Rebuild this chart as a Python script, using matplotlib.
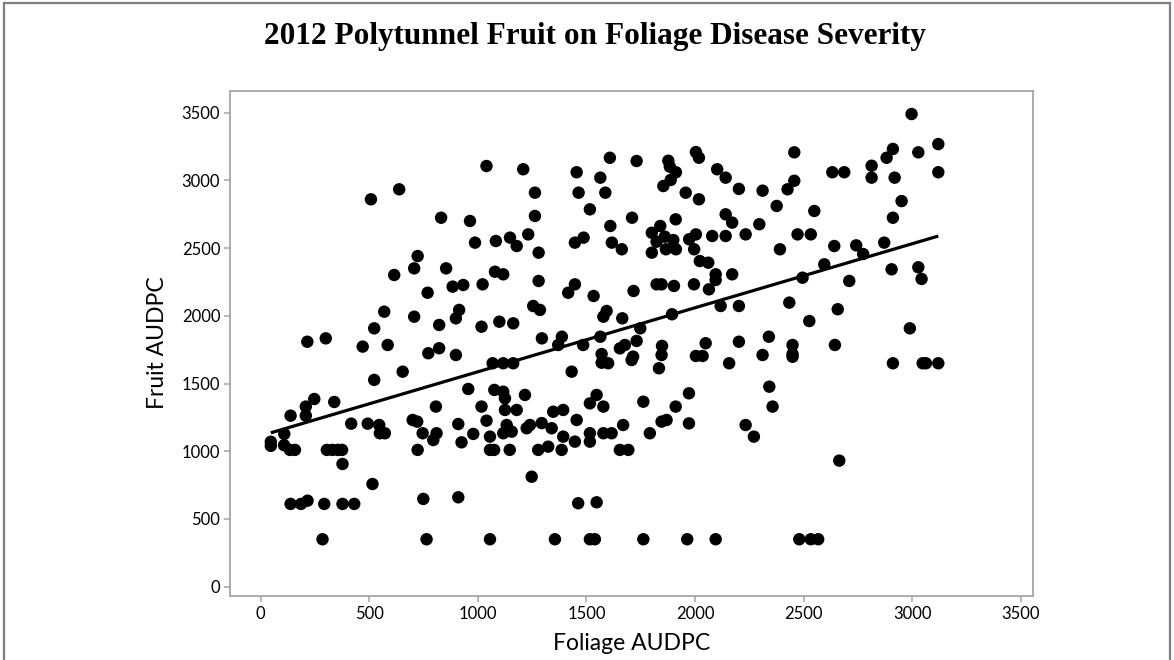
import numpy as np
import matplotlib
matplotlib.use("Agg")
import matplotlib.pyplot as plt
from matplotlib.patches import Rectangle

# Foliage AUDPC (x) and fruit AUDPC (y) per plot, 2012 polytunnel trial
foliage_audpc = [
    47, 47, 109, 108, 135, 158, 138, 208, 208, 247, 339, 215, 300, 417, 493,
    546, 549, 572, 523, 654, 470, 585, 772, 822, 899, 1068, 956, 1076, 807, 700,
    721, 746, 795, 810, 723, 910, 925, 979, 1017, 1040, 1056, 1056, 1075, 305, 330,
    355, 375, 377, 515, 138, 186, 216, 293, 377, 431, 749, 910, 285, 764, 1056,
    1040, 508, 638, 831, 964, 987, 1083, 723, 707, 854, 615, 769, 884, 933, 1022,
    1079, 569, 707, 914, 899, 523, 822, 1017, 1099,
    1209, 1455, 1608, 1731, 1877, 1884, 1912, 2004, 2018, 2102, 2141, 2202, 2311, 2376, 1263,
    1464, 1564, 1587, 1888, 1854, 1957, 2018, 1516, 1263, 1710, 1911, 2141, 2171, 2296, 1610,
    1840, 1148, 1232, 1179, 1280, 1447, 1487, 1617, 1663, 1801, 1823, 1861, 1900, 1866, 1912,
    1801, 1973, 2004, 1996, 2079, 2141, 2233, 2022, 2061, 2095, 2095, 2171, 2391, 1117, 1280,
    1447, 1416, 1533, 1717, 1823, 1846, 1903, 1995, 2064, 1255, 1286, 1593, 1578, 1665, 1748,
    1894, 2118, 2202, 1163, 1295, 1387, 1370, 1564, 1485, 1731, 1677, 1654, 1848, 2049, 2202,
    2340,
    2997, 3120, 3028, 2911, 2882, 2457, 2632, 2687, 2813, 2813, 2919, 3120, 2457, 2426, 2549,
    2951, 2911, 2472, 2533, 2641, 2742, 2774, 2871, 2595, 2495, 2710, 2905, 3028, 3043, 2434,
    2657, 2526, 2989, 2449, 2644,
    1570, 1570, 1600, 1715, 1708, 1846, 1834, 2004, 2035, 2157, 2311, 1117, 1163, 1432, 1117,
    1125, 1217, 1125, 1179, 1133, 1117, 1156, 1147, 1225, 1240, 1294, 1340, 1278, 1324, 1347,
    1393, 1386, 1393, 1455, 1447, 1516, 1547, 1578, 1516, 1516, 1578, 1616, 1669, 1654, 1693,
    1762, 1792, 1846, 1869, 1911, 1972, 1972, 2233, 2271, 2342, 2357, 1248, 1462, 1547, 1355,
    1516, 1539, 1762, 1964, 2095,
    2449, 2449, 2911, 3048, 3063, 3120, 2664, 2480, 2533, 2567,
]
fruit_audpc = [
    1070, 1040, 1128, 1045, 1010, 1010, 1263, 1330, 1263, 1386, 1364, 1809, 1834, 1204, 1204,
    1194, 1133, 1133, 1527, 1588, 1773, 1785, 1724, 1761, 1711, 1650, 1460, 1453, 1330, 1231,
    1219, 1133, 1083, 1133, 1010, 1201, 1066, 1128, 1330, 1226, 1108, 1010, 1010, 1010, 1010,
    1010, 1010, 906, 758, 611, 611, 635, 611, 611, 611, 648, 660, 350, 350, 350,
    3107, 2861, 2935, 2725, 2701, 2541, 2553, 2442, 2351, 2351, 2302, 2171, 2216, 2228, 2233,
    2326, 2031, 1994, 2044, 1982, 1908, 1933, 1920, 1957,
    3083, 3061, 3168, 3144, 3146, 3102, 3061, 3210, 3168, 3083, 3021, 2938, 2925, 2812, 2910,
    2910, 3021, 2910, 3004, 2959, 2910, 2861, 2787, 2738, 2725, 2713, 2750, 2689, 2677, 2664,
    2664, 2578, 2602, 2516, 2467, 2541, 2578, 2541, 2492, 2614, 2548, 2585, 2560, 2492, 2492,
    2467, 2566, 2602, 2492, 2590, 2590, 2602, 2405, 2393, 2307, 2265, 2307, 2492, 2307, 2258,
    2233, 2171, 2147, 2184, 2233, 2233, 2221, 2233, 2196, 2073, 2044, 2036, 1994, 1982, 1908,
    2012, 2073, 2073, 1945, 1834, 1846, 1785, 1846, 1785, 1815, 1785, 1760, 1778, 1798, 1809,
    1846,
    3491, 3269, 3208, 3233, 3168, 3208, 3061, 3061, 3109, 3021, 3021, 3061, 2998, 2935, 2775,
    2848, 2725, 2602, 2602, 2516, 2521, 2457, 2541, 2381, 2282, 2258, 2344, 2359, 2273, 2098,
    2049, 1962, 1908, 1785, 1785,
    1718, 1654, 1650, 1699, 1674, 1711, 1613, 1704, 1704, 1650, 1711, 1650, 1650, 1588, 1440,
    1391, 1416, 1305, 1305, 1194, 1133, 1145, 1010, 1170, 1194, 1208, 1170, 1010, 1034, 1292,
    1305, 1010, 1108, 1231, 1071, 1354, 1416, 1330, 1133, 1071, 1133, 1133, 1194, 1010, 1010,
    1366, 1133, 1219, 1231, 1330, 1428, 1206, 1194, 1108, 1477, 1330, 812, 616, 623, 350,
    350, 350, 350, 350, 350,
    1718, 1698, 1650, 1650, 1650, 1650, 931, 350, 350, 350,
]

# fitted regression line: fruit = intercept + slope * foliage
fit_intercept = 1114
fit_slope = 0.473

x_ticks = [0, 500, 1000, 1500, 2000, 2500, 3000, 3500]
y_ticks = [0, 500, 1000, 1500, 2000, 2500, 3000, 3500]

title_text = "2012 Polytunnel Fruit on Foliage Disease Severity"
x_label = "Foliage AUDPC"
y_label = "Fruit AUDPC"

x = np.asarray(foliage_audpc, dtype=float)
y = np.asarray(fruit_audpc, dtype=float)

fit_x = np.array([x.min(), x.max()])
fit_y = fit_intercept + fit_slope * fit_x

axis_grey = "#a6a6a6"
label_font = ["Lato", "DejaVu Sans"]

fig = plt.figure(figsize=(11.74, 6.60), dpi=100)
ax = fig.add_axes([0.1959, 0.0970, 0.6840, 0.7651])

ax.scatter(x, y, s=80, color="black", edgecolors="none", zorder=3)
ax.plot(fit_x, fit_y, color="black", lw=2.3, zorder=4, solid_capstyle="butt")

ax.set_xlim(-141, 3556)
ax.set_ylim(-69, 3661)
ax.set_xticks(x_ticks)
ax.set_yticks(y_ticks)

for side in ("left", "right", "top", "bottom"):
    ax.spines[side].set_color(axis_grey)
    ax.spines[side].set_linewidth(1.3)

ax.tick_params(axis="both", direction="out", length=4, width=1.1,
               color=axis_grey, labelsize=12, pad=3)
for lab in ax.get_xticklabels() + ax.get_yticklabels():
    lab.set_family(label_font)
    lab.set_color("black")

ax.set_xlabel(x_label, fontsize=16.5, family=label_font, color="black")
ax.set_ylabel(y_label, fontsize=16.5, family=label_font, color="black")
ax.xaxis.set_label_coords(0.5, -0.095)
ax.xaxis.label.set_va("center")
ax.yaxis.set_label_coords(-0.090, 0.502)
ax.yaxis.label.set_va("center")

fig.text(0.507, 0.9333, title_text, ha="center", va="baseline", fontsize=22.5,
         fontweight="bold", family=["Liberation Serif", "DejaVu Serif"],
         color="black")

# outer frame around the chart
fig.patches.append(Rectangle((0.003, -0.01), 0.994, 1.006, transform=fig.transFigure,
                             fill=False, edgecolor="#7f7f7f", lw=1.6))

fig.savefig("out.png", dpi=100)
